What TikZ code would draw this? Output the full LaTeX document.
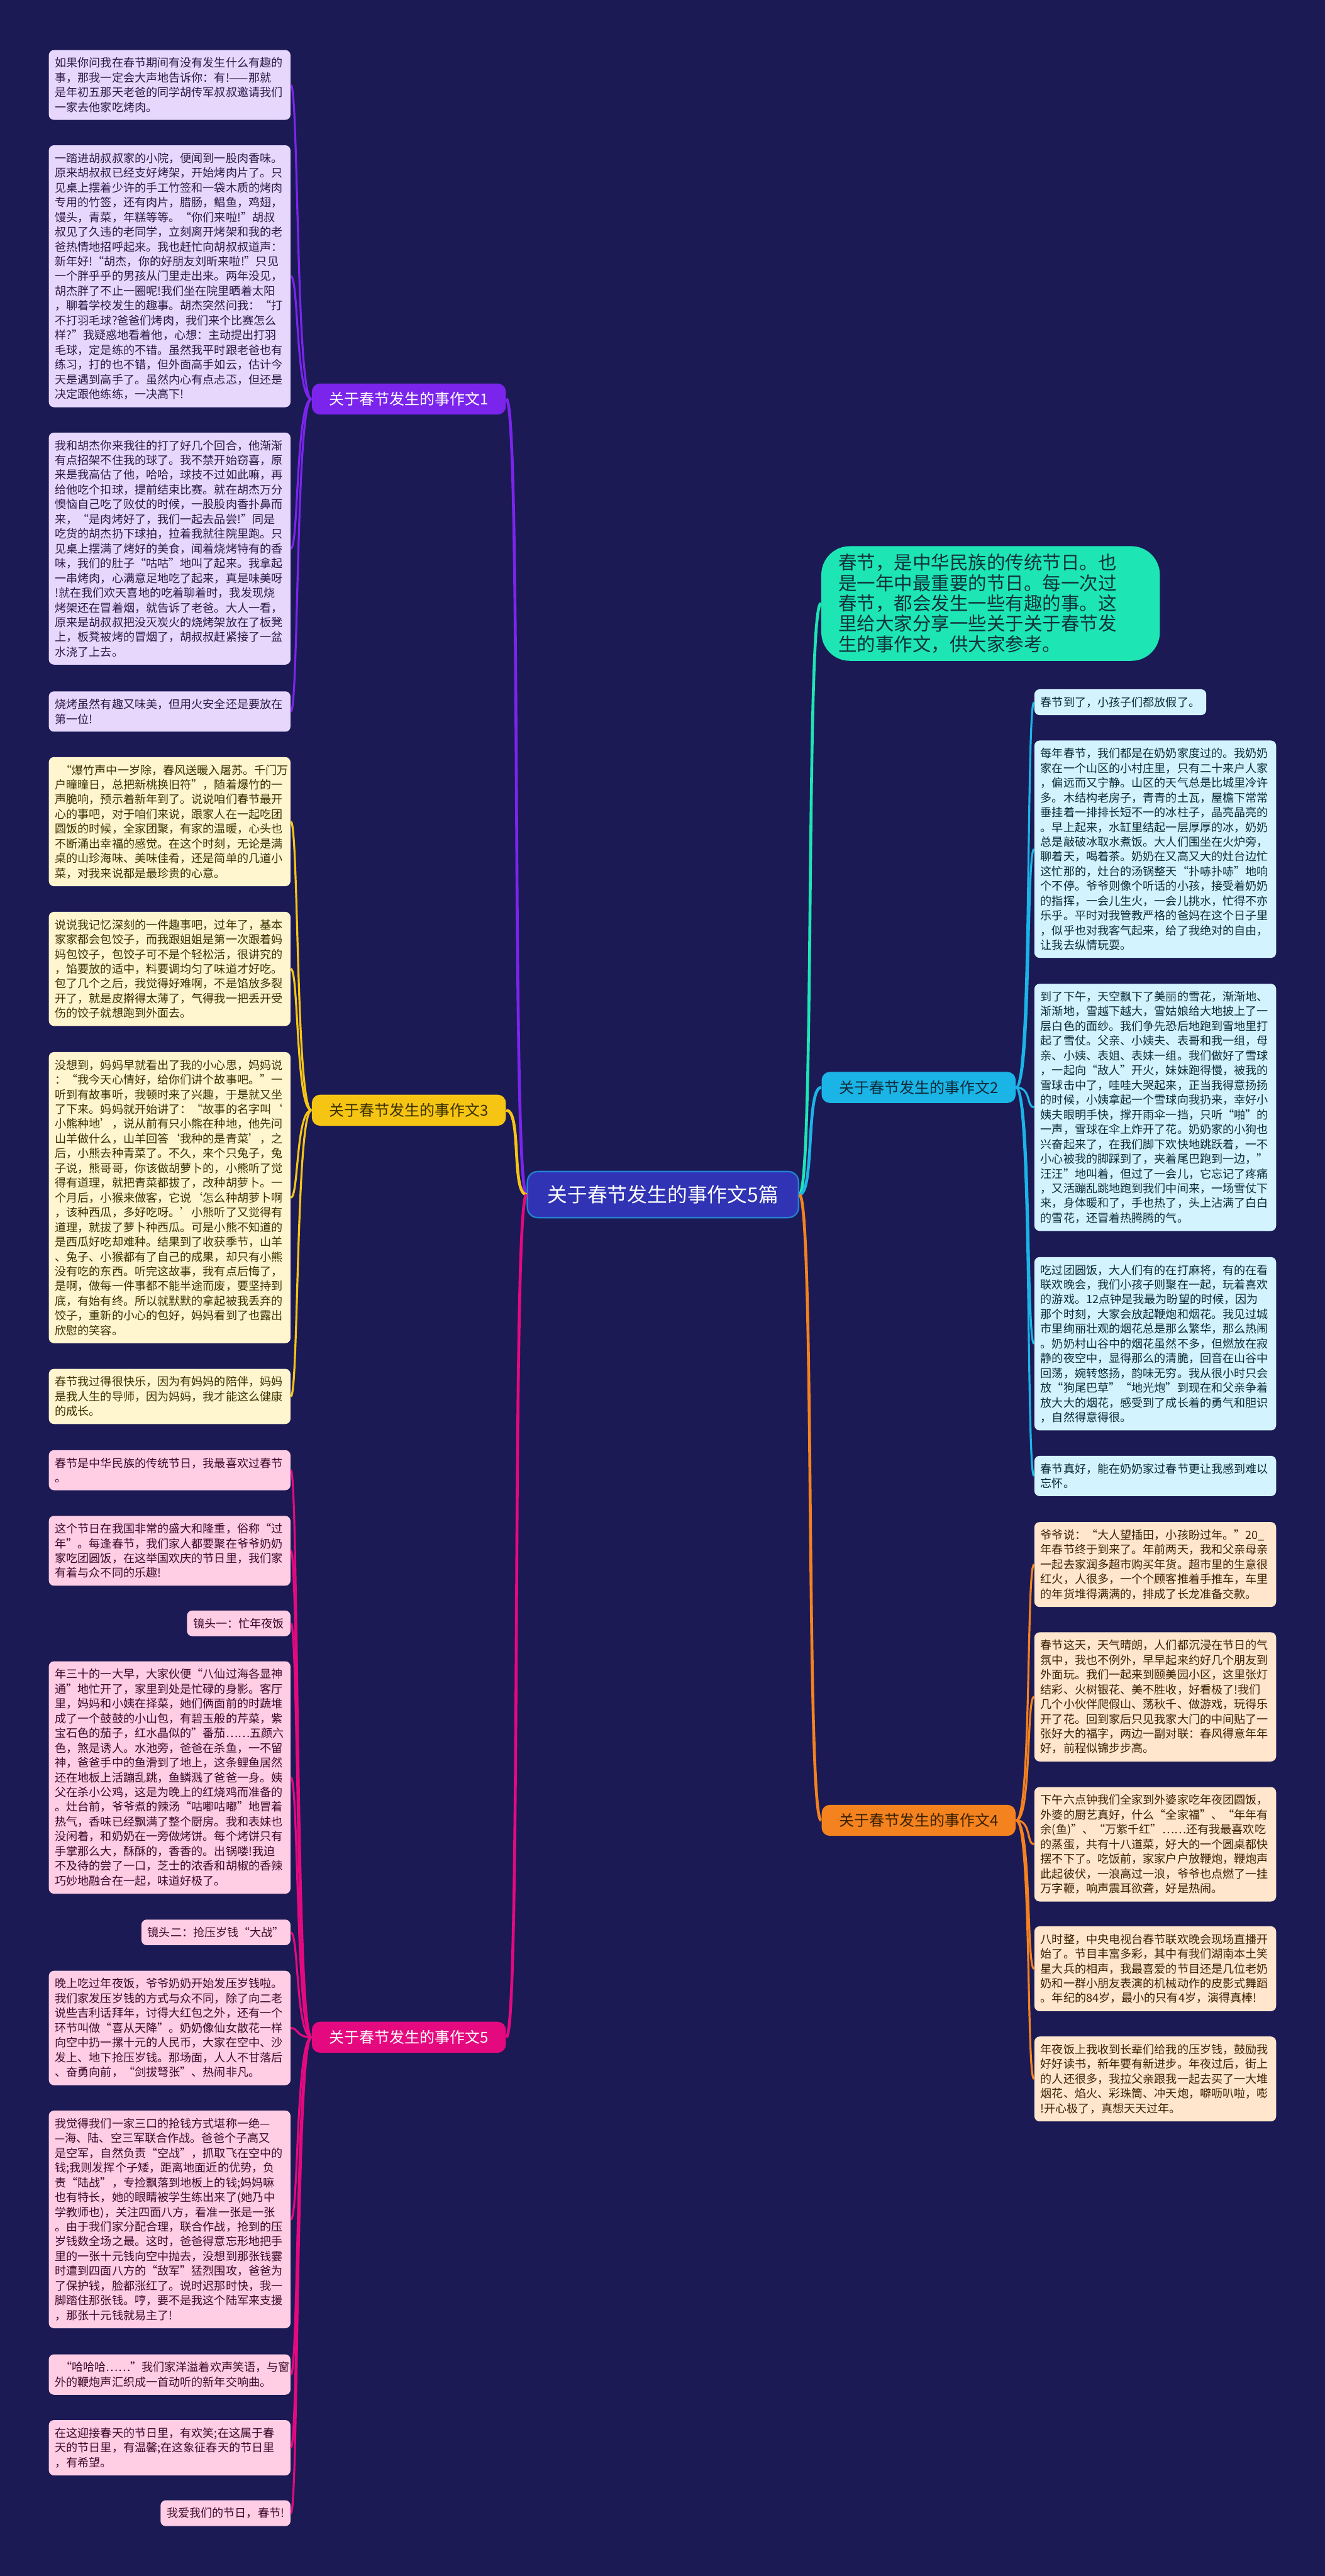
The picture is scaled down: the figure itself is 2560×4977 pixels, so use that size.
\documentclass[tikz,border=0pt]{standalone}
\usepackage{fontspec}
\setmainfont{Noto Sans CJK SC}

\definecolor{mapBg}  {HTML}{1B1A55}
\definecolor{rootC}  {HTML}{2F33B4}
\definecolor{introC} {HTML}{1DE6B4}
\definecolor{introT} {HTML}{10323A}
\definecolor{brA}    {HTML}{7B25EC}
\definecolor{leafA}  {HTML}{E7D7FC}
\definecolor{textA}  {HTML}{2C1846}
\definecolor{brB}    {HTML}{1BB4E6}
\definecolor{leafB}  {HTML}{D3F3FF}
\definecolor{textB}  {HTML}{0F2B3B}
\definecolor{brC}    {HTML}{F6C514}
\definecolor{leafC}  {HTML}{FFF5CF}
\definecolor{textC}  {HTML}{3B3100}
\definecolor{brD}    {HTML}{F4821E}
\definecolor{leafD}  {HTML}{FFE6CD}
\definecolor{textD}  {HTML}{3B2200}
\definecolor{brE}    {HTML}{E5097F}
\definecolor{leafE}  {HTML}{FFCDE4}
\definecolor{textE}  {HTML}{3B0A2A}

\begin{document}
\begin{tikzpicture}[x=0.1mm, y=-0.1mm,
    leaf/.style={rounded corners=1mm, inner xsep=1.2mm, inner ysep=1.45mm,
      font=\fontsize{6.26pt}{8.11pt}\selectfont, align=left},
    wide/.style={text width=44.3mm},
    branch/.style={rounded corners=1.6mm, minimum width=37.5mm, minimum height=6mm,
      inner sep=0pt, font=\fontsize{8.3pt}{10pt}\selectfont},
    twig/.style={line width=1.1pt},
    limb/.style={line width=1.6pt}]
    \path[use as bounding box, fill=mapBg] (0,0) rectangle (2560,4977);
    %--- Midten ---
    \node[rounded corners=2mm, fill=rootC, draw=brB!60!rootC, line width=0.8pt, text=white,
      minimum width=52.4mm, minimum height=8.9mm, inner sep=0pt,
      font=\fontsize{11pt}{13pt}\selectfont] (root) at (1281,2308) {关于春节发生的事作文5篇};
    \node[rounded corners=5.5mm, fill=introC, text=introT, text width=58.8mm, align=left,
      inner xsep=3.3mm, inner ysep=1.5mm, font=\fontsize{10.2pt}{11.2pt}\selectfont]
      (intro) at (1914,1166) {春节，是中华民族的传统节日。也\\是一年中最重要的节日。每一次过\\春节，都会发生一些有趣的事。这\\里给大家分享一些关于关于春节发\\生的事作文，供大家参考。};
    %--- Grener ---
    \node[branch, fill=brA, text=white] (b1) at (790,771) {关于春节发生的事作文1};
    \node[branch, fill=brC, text=textC] (b3) at (790,2145) {关于春节发生的事作文3};
    \node[branch, fill=brE, text=white] (b5) at (790,3936) {关于春节发生的事作文5};
    \node[branch, fill=brB, text=textB] (b2) at (1775,2101) {关于春节发生的事作文2};
    \node[branch, fill=brD, text=textD] (b4) at (1775,3517) {关于春节发生的事作文4};
    %--- Gren 1 ---
    \node[leaf, wide, fill=leafA, text=textA, anchor=north east] (e1a) at (562,96)
      {如果你问我在春节期间有没有发生什么有趣的\\事，那我一定会大声地告诉你：有!——那就\\是年初五那天老爸的同学胡传军叔叔邀请我们\\一家去他家吃烤肉。};
    \node[leaf, wide, fill=leafA, text=textA, anchor=north east] (e1b) at (562,280)
      {一踏进胡叔叔家的小院，便闻到一股肉香味。\\原来胡叔叔已经支好烤架，开始烤肉片了。只\\见桌上摆着少许的手工竹签和一袋木质的烤肉\\专用的竹签，还有肉片，腊肠，鲳鱼，鸡翅，\\馒头，青菜，年糕等等。“你们来啦!”胡叔\\叔见了久违的老同学，立刻离开烤架和我的老\\爸热情地招呼起来。我也赶忙向胡叔叔道声：\\新年好!“胡杰，你的好朋友刘昕来啦!”只见\\一个胖乎乎的男孩从门里走出来。两年没见，\\胡杰胖了不止一圈呢!我们坐在院里晒着太阳\\，聊着学校发生的趣事。胡杰突然问我：“打\\不打羽毛球?爸爸们烤肉，我们来个比赛怎么\\样?”我疑惑地看着他，心想：主动提出打羽\\毛球，定是练的不错。虽然我平时跟老爸也有\\练习，打的也不错，但外面高手如云，估计今\\天是遇到高手了。虽然内心有点忐忑，但还是\\决定跟他练练，一决高下!};
    \node[leaf, wide, fill=leafA, text=textA, anchor=north east] (e1c) at (562,835)
      {我和胡杰你来我往的打了好几个回合，他渐渐\\有点招架不住我的球了。我不禁开始窃喜，原\\来是我高估了他，哈哈，球技不过如此嘛，再\\给他吃个扣球，提前结束比赛。就在胡杰万分\\懊恼自己吃了败仗的时候，一股股肉香扑鼻而\\来，“是肉烤好了，我们一起去品尝!”同是\\吃货的胡杰扔下球拍，拉着我就往院里跑。只\\见桌上摆满了烤好的美食，闻着烧烤特有的香\\味，我们的肚子“咕咕”地叫了起来。我拿起\\一串烤肉，心满意足地吃了起来，真是味美呀\\!就在我们欢天喜地的吃着聊着时，我发现烧\\烤架还在冒着烟，就告诉了老爸。大人一看，\\原来是胡叔叔把没灭炭火的烧烤架放在了板凳\\上，板凳被烤的冒烟了，胡叔叔赶紧接了一盆\\水浇了上去。};
    \node[leaf, wide, fill=leafA, text=textA, anchor=north east] (e1d) at (562,1335)
      {烧烤虽然有趣又味美，但用火安全还是要放在\\第一位!};
    %--- Gren 3 ---
    \node[leaf, wide, fill=leafC, text=textC, anchor=north east] (e3a) at (562,1462)
      {\hspace*{0.5em}“爆竹声中一岁除，春风送暖入屠苏。千门万\\户曈曈日，总把新桃换旧符”，随着爆竹的一\\声脆响，预示着新年到了。说说咱们春节最开\\心的事吧，对于咱们来说，跟家人在一起吃团\\圆饭的时候，全家团聚，有家的温暖，心头也\\不断涌出幸福的感觉。在这个时刻，无论是满\\桌的山珍海味、美味佳肴，还是简单的几道小\\菜，对我来说都是最珍贵的心意。};
    \node[leaf, wide, fill=leafC, text=textC, anchor=north east] (e3b) at (562,1761)
      {说说我记忆深刻的一件趣事吧，过年了，基本\\家家都会包饺子，而我跟姐姐是第一次跟着妈\\妈包饺子，包饺子可不是个轻松活，很讲究的\\，馅要放的适中，料要调均匀了味道才好吃。\\包了几个之后，我觉得好难啊，不是馅放多裂\\开了，就是皮擀得太薄了，气得我一把丢开受\\伤的饺子就想跑到外面去。};
    \node[leaf, wide, fill=leafC, text=textC, anchor=north east] (e3c) at (562,2032)
      {没想到，妈妈早就看出了我的小心思，妈妈说\\：“我今天心情好，给你们讲个故事吧。”一\\听到有故事听，我顿时来了兴趣，于是就又坐\\了下来。妈妈就开始讲了：“故事的名字叫‘\\小熊种地’，说从前有只小熊在种地，他先问\\山羊做什么，山羊回答‘我种的是青菜’，之\\后，小熊去种青菜了。不久，来个只兔子，兔\\子说，熊哥哥，你该做胡萝卜的，小熊听了觉\\得有道理，就把青菜都拔了，改种胡萝卜。一\\个月后，小猴来做客，它说‘怎么种胡萝卜啊\\，该种西瓜，多好吃呀。’小熊听了又觉得有\\道理，就拔了萝卜种西瓜。可是小熊不知道的\\是西瓜好吃却难种。结果到了收获季节，山羊\\、兔子、小猴都有了自己的成果，却只有小熊\\没有吃的东西。听完这故事，我有点后悔了，\\是啊，做每一件事都不能半途而废，要坚持到\\底，有始有终。所以就默默的拿起被我丢弃的\\饺子，重新的小心的包好，妈妈看到了也露出\\欣慰的笑容。};
    \node[leaf, wide, fill=leafC, text=textC, anchor=north east] (e3d) at (562,2644)
      {春节我过得很快乐，因为有妈妈的陪伴，妈妈\\是我人生的导师，因为妈妈，我才能这么健康\\的成长。};
    %--- Gren 5 ---
    \node[leaf, wide, fill=leafE, text=textE, anchor=north east] (e5a) at (562,2801)
      {春节是中华民族的传统节日，我最喜欢过春节\\。};
    \node[leaf, wide, fill=leafE, text=textE, anchor=north east] (e5b) at (562,2928)
      {这个节日在我国非常的盛大和隆重，俗称“过\\年”。每逢春节，我们家人都要聚在爷爷奶奶\\家吃团圆饭，在这举国欢庆的节日里，我们家\\有着与众不同的乐趣!};
    \node[leaf, fill=leafE, text=textE, anchor=north east] (e5c) at (562,3111) {镜头一：忙年夜饭};
    \node[leaf, wide, fill=leafE, text=textE, anchor=north east] (e5d) at (562,3209)
      {年三十的一大早，大家伙便“八仙过海各显神\\通”地忙开了，家里到处是忙碌的身影。客厅\\里，妈妈和小姨在择菜，她们俩面前的时蔬堆\\成了一个鼓鼓的小山包，有碧玉般的芹菜，紫\\宝石色的茄子，红水晶似的"番茄……五颜六\\色，煞是诱人。水池旁，爸爸在杀鱼，一不留\\神，爸爸手中的鱼滑到了地上，这条鲤鱼居然\\还在地板上活蹦乱跳，鱼鳞溅了爸爸一身。姨\\父在杀小公鸡，这是为晚上的红烧鸡而准备的\\。灶台前，爷爷煮的辣汤“咕嘟咕嘟”地冒着\\热气，香味已经飘满了整个厨房。我和表妹也\\没闲着，和奶奶在一旁做烤饼。每个烤饼只有\\手掌那么大，酥酥的，香香的。出锅喽!我迫\\不及待的尝了一口，芝士的浓香和胡椒的香辣\\巧妙地融合在一起，味道好极了。};
    \node[leaf, fill=leafE, text=textE, anchor=north east] (e5e) at (562,3708) {镜头二：抢压岁钱“大战”};
    \node[leaf, wide, fill=leafE, text=textE, anchor=north east] (e5f) at (562,3807)
      {晚上吃过年夜饭，爷爷奶奶开始发压岁钱啦。\\我们家发压岁钱的方式与众不同，除了向二老\\说些吉利话拜年，讨得大红包之外，还有一个\\环节叫做“喜从天降”。奶奶像仙女散花一样\\向空中扔一摞十元的人民币，大家在空中、沙\\发上、地下抢压岁钱。那场面，人人不甘落后\\、奋勇向前，“剑拔弩张”、热闹非凡。};
    \node[leaf, wide, fill=leafE, text=textE, anchor=north east] (e5g) at (562,4077)
      {我觉得我们一家三口的抢钱方式堪称一绝—\\—海、陆、空三军联合作战。爸爸个子高又\\是空军，自然负责“空战”，抓取飞在空中的\\钱;我则发挥个子矮，距离地面近的优势，负\\责“陆战”，专捡飘落到地板上的钱;妈妈嘛\\也有特长，她的眼睛被学生练出来了(她乃中\\学教师也)，关注四面八方，看准一张是一张\\。由于我们家分配合理，联合作战，抢到的压\\岁钱数全场之最。这时，爸爸得意忘形地把手\\里的一张十元钱向空中抛去，没想到那张钱霎\\时遭到四面八方的“敌军”猛烈围攻，爸爸为\\了保护钱，脸都涨红了。说时迟那时快，我一\\脚踏住那张钱。哼，要不是我这个陆军来支援\\，那张十元钱就易主了!};
    \node[leaf, wide, fill=leafE, text=textE, anchor=north east] (e5h) at (562,4548)
      {\hspace*{0.5em}“哈哈哈……”我们家洋溢着欢声笑语，与窗\\外的鞭炮声汇织成一首动听的新年交响曲。};
    \node[leaf, wide, fill=leafE, text=textE, anchor=north east] (e5i) at (562,4675)
      {在这迎接春天的节日里，有欢笑;在这属于春\\天的节日里，有温馨;在这象征春天的节日里\\，有希望。};
    \node[leaf, fill=leafE, text=textE, anchor=north east] (e5j) at (562,4830) {我爱我们的节日，春节!};
    %--- Gren 2 ---
    \node[leaf, fill=leafB, text=textB, anchor=north west] (e2a) at (1998,1331) {春节到了，小孩子们都放假了。};
    \node[leaf, wide, fill=leafB, text=textB, anchor=north west] (e2b) at (1998,1430)
      {每年春节，我们都是在奶奶家度过的。我奶奶\\家在一个山区的小村庄里，只有二十来户人家\\，偏远而又宁静。山区的天气总是比城里冷许\\多。木结构老房子，青青的土瓦，屋檐下常常\\垂挂着一排排长短不一的冰柱子，晶亮晶亮的\\。早上起来，水缸里结起一层厚厚的冰，奶奶\\总是敲破冰取水煮饭。大人们围坐在火炉旁，\\聊着天，喝着茶。奶奶在又高又大的灶台边忙\\这忙那的，灶台的汤锅整天“扑哧扑哧”地响\\个不停。爷爷则像个听话的小孩，接受着奶奶\\的指挥，一会儿生火，一会儿挑水，忙得不亦\\乐乎。平时对我管教严格的爸妈在这个日子里\\，似乎也对我客气起来，给了我绝对的自由，\\让我去纵情玩耍。};
    \node[leaf, wide, fill=leafB, text=textB, anchor=north west] (e2c) at (1998,1900)
      {到了下午，天空飘下了美丽的雪花，渐渐地、\\渐渐地，雪越下越大，雪姑娘给大地披上了一\\层白色的面纱。我们争先恐后地跑到雪地里打\\起了雪仗。父亲、小姨夫、表哥和我一组，母\\亲、小姨、表姐、表妹一组。我们做好了雪球\\，一起向“敌人”开火，妹妹跑得慢，被我的\\雪球击中了，哇哇大哭起来，正当我得意扬扬\\的时候，小姨拿起一个雪球向我扔来，幸好小\\姨夫眼明手快，撑开雨伞一挡，只听“啪”的\\一声，雪球在伞上炸开了花。奶奶家的小狗也\\兴奋起来了，在我们脚下欢快地跳跃着，一不\\小心被我的脚踩到了，夹着尾巴跑到一边，”\\汪汪”地叫着，但过了一会儿，它忘记了疼痛\\，又活蹦乱跳地跑到我们中间来，一场雪仗下\\来，身体暖和了，手也热了，头上沾满了白白\\的雪花，还冒着热腾腾的气。};
    \node[leaf, wide, fill=leafB, text=textB, anchor=north west] (e2d) at (1998,2428)
      {吃过团圆饭，大人们有的在打麻将，有的在看\\联欢晚会，我们小孩子则聚在一起，玩着喜欢\\的游戏。12点钟是我最为盼望的时候，因为\\那个时刻，大家会放起鞭炮和烟花。我见过城\\市里绚丽壮观的烟花总是那么繁华，那么热闹\\。奶奶村山谷中的烟花虽然不多，但燃放在寂\\静的夜空中，显得那么的清脆，回音在山谷中\\回荡，婉转悠扬，韵味无穷。我从很小时只会\\放“狗尾巴草”“地光炮”到现在和父亲争着\\放大大的烟花，感受到了成长着的勇气和胆识\\，自然得意得很。};
    \node[leaf, wide, fill=leafB, text=textB, anchor=north west] (e2e) at (1998,2812)
      {春节真好，能在奶奶家过春节更让我感到难以\\忘怀。};
    %--- Gren 4 ---
    \node[leaf, wide, fill=leafD, text=textD, anchor=north west] (e4a) at (1998,2940)
      {爷爷说：“大人望插田，小孩盼过年。”20\_\\年春节终于到来了。年前两天，我和父亲母亲\\一起去家润多超市购买年货。超市里的生意很\\红火，人很多，一个个顾客推着手推车，车里\\的年货堆得满满的，排成了长龙准备交款。};
    \node[leaf, wide, fill=leafD, text=textD, anchor=north west] (e4b) at (1998,3153)
      {春节这天，天气晴朗，人们都沉浸在节日的气\\氛中，我也不例外，早早起来约好几个朋友到\\外面玩。我们一起来到颐美园小区，这里张灯\\结彩、火树银花、美不胜收，好看极了!我们\\几个小伙伴爬假山、荡秋千、做游戏，玩得乐\\开了花。回到家后只见我家大门的中间贴了一\\张好大的福字，两边一副对联：春风得意年年\\好，前程似锦步步高。};
    \node[leaf, wide, fill=leafD, text=textD, anchor=north west] (e4c) at (1998,3452)
      {下午六点钟我们全家到外婆家吃年夜团圆饭，\\外婆的厨艺真好，什么“全家福”、“年年有\\余(鱼)”、“万紫千红”……还有我最喜欢吃\\的蒸蛋，共有十八道菜，好大的一个圆桌都快\\摆不下了。吃饭前，家家户户放鞭炮，鞭炮声\\此起彼伏，一浪高过一浪，爷爷也点燃了一挂\\万字鞭，响声震耳欲聋，好是热闹。};
    \node[leaf, wide, fill=leafD, text=textD, anchor=north west] (e4d) at (1998,3721)
      {八时整，中央电视台春节联欢晚会现场直播开\\始了。节目丰富多彩，其中有我们湖南本土笑\\星大兵的相声，我最喜爱的节目还是几位老奶\\奶和一群小朋友表演的机械动作的皮影式舞蹈\\。年纪的84岁，最小的只有4岁，演得真棒!};
    \node[leaf, wide, fill=leafD, text=textD, anchor=north west] (e4e) at (1998,3934)
      {年夜饭上我收到长辈们给我的压岁钱，鼓励我\\好好读书，新年要有新进步。年夜过后，街上\\的人还很多，我拉父亲跟我一起去买了一大堆\\烟花、焰火、彩珠筒、冲天炮，噼呖叭啦，嘭\\!开心极了，真想天天过年。};
    %--- Hovedgrener ---
    \draw[limb, brA] (root.west) .. controls +(-30,0) and +(30,0) .. (b1.east);
    \draw[limb, brC] (root.west) .. controls +(-30,0) and +(30,0) .. (b3.east);
    \draw[limb, brE] (root.west) .. controls +(-30,0) and +(30,0) .. (b5.east);
    \draw[limb, introC] (root.east) .. controls +(30,0) and +(-30,0) .. (intro.west);
    \draw[limb, brB] (root.east) .. controls +(30,0) and +(-30,0) .. (b2.west);
    \draw[limb, brD] (root.east) .. controls +(30,0) and +(-30,0) .. (b4.west);
    %--- Kvister ---
    \foreach \n in {e1a,e1b,e1c,e1d}
      \draw[twig, brA] (b1.west) .. controls +(-30,0) and +(15,0) .. (\n.east);
    \foreach \n in {e3a,e3b,e3c,e3d}
      \draw[twig, brC] (b3.west) .. controls +(-30,0) and +(15,0) .. (\n.east);
    \foreach \n in {e5a,e5b,e5c,e5d,e5e,e5f,e5g,e5h,e5i,e5j}
      \draw[twig, brE] (b5.west) .. controls +(-30,0) and +(15,0) .. (\n.east);
    \foreach \n in {e2a,e2b,e2c,e2d,e2e}
      \draw[twig, brB] (b2.east) .. controls +(30,0) and +(-15,0) .. (\n.west);
    \foreach \n in {e4a,e4b,e4c,e4d,e4e}
      \draw[twig, brD] (b4.east) .. controls +(30,0) and +(-15,0) .. (\n.west);
\end{tikzpicture}
\end{document}
